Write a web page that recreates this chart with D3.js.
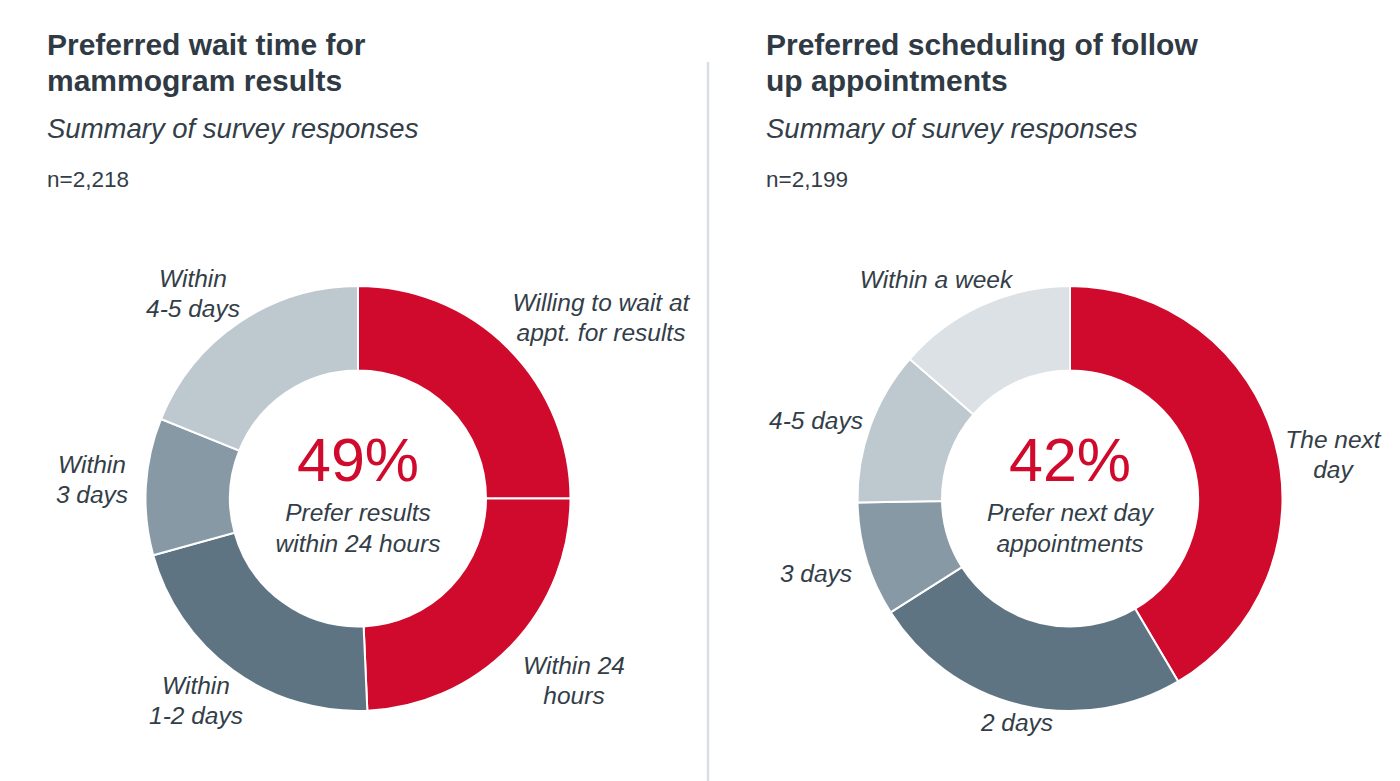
<!DOCTYPE html>
<html>
<head>
<meta charset="utf-8">
<script src="https://cdn.jsdelivr.net/npm/d3@7"></script>
<style>
  body { margin: 0; background: #fff; }
  svg { display: block; font-family: "Liberation Sans", Arial, sans-serif; }
</style>
</head>
<body>
<div id="chart"></div>
<script>
// Left chart: preferred wait time for results (share of respondents, %)
const waitCategories = ["Willing to wait at appt. for results", "Within 24 hours", "Within 1-2 days", "Within 3 days", "Within 4-5 days"];
const waitValues = [25, 24.3, 21.4, 10.4, 18.9];
const waitLabelLines = [["Willing to wait at", "appt. for results"], ["Within 24", "hours"], ["Within", "1-2 days"], ["Within", "3 days"], ["Within", "4-5 days"]];

// Right chart: preferred scheduling of follow up appointments (%)
const followCategories = ["The next day", "2 days", "3 days", "4-5 days", "Within a week"];
const followValues = [41.5, 24.5, 8.7, 11.7, 13.6];
const followLabelLines = [["The next", "day"], ["2 days"], ["3 days"], ["4-5 days"], ["Within a week"]];

const palette = ["#CF0A2C", "#CF0A2C", "#5F7483", "#8899A6", "#BEC8CF"];
const followPalette = ["#CF0A2C", "#5F7483", "#8899A6", "#BEC8CF", "#DCE1E5"];

const width = 1400, height = 781;
const textColor = "#333E48";

const svg = d3.select("#chart").append("svg")
    .attr("width", width)
    .attr("height", height);

svg.append("rect").attr("width", width).attr("height", height).attr("fill", "#fff");

// divider between the two panels
svg.append("line")
    .attr("x1", 708).attr("x2", 708)
    .attr("y1", 62).attr("y2", height)
    .attr("stroke", "#DADDE1")
    .attr("stroke-width", 2.5);

const outerR = 212.5, innerR = 128;

function drawPanel(opts) {
    const g = svg.append("g");

    // header texts
    opts.title.forEach((line, i) => {
        g.append("text")
            .attr("x", opts.left)
            .attr("y", 55 + i * 36)
            .attr("font-size", 30)
            .attr("font-weight", "bold")
            .attr("fill", "#2F3A44")
            .text(line);
    });
    g.append("text")
        .attr("x", opts.left).attr("y", 138)
        .attr("font-size", 27.5)
        .attr("font-style", "italic")
        .attr("fill", textColor)
        .text("Summary of survey responses");
    g.append("text")
        .attr("x", opts.left).attr("y", 187)
        .attr("font-size", 22.5)
        .attr("fill", textColor)
        .text(opts.n);

    // donut
    const pie = d3.pie().sort(null).value(d => d.value);
    const arc = d3.arc().innerRadius(innerR).outerRadius(outerR);
    const data = opts.categories.map((c, i) => ({ name: c, value: opts.values[i] }));

    const donut = g.append("g")
        .attr("transform", "translate(" + opts.cx + "," + opts.cy + ")");

    donut.selectAll("path")
        .data(pie(data))
        .enter().append("path")
        .attr("d", arc)
        .attr("fill", (d, i) => opts.colors[i])
        .attr("stroke", "#fff")
        .attr("stroke-width", 2);

    // centre text
    donut.append("text")
        .attr("text-anchor", "middle")
        .attr("y", -18)
        .attr("font-size", 61)
        .attr("fill", "#CF0A2C")
        .text(opts.big);
    opts.caption.forEach((line, i) => {
        donut.append("text")
            .attr("text-anchor", "middle")
            .attr("y", 22 + i * 31)
            .attr("font-size", 24.5)
            .attr("font-style", "italic")
            .attr("fill", textColor)
            .text(line);
    });

    // slice labels (offsets from donut centre)
    opts.labelLines.forEach((lines, i) => {
        const off = opts.labelOffsets[i];
        lines.forEach((line, j) => {
            donut.append("text")
                .attr("text-anchor", "middle")
                .attr("x", off[0])
                .attr("y", off[1] + j * 30)
                .attr("font-size", 24.5)
                .attr("font-style", "italic")
                .attr("fill", textColor)
                .text(line);
        });
    });
}

drawPanel({
    left: 47, cx: 358, cy: 498.5,
    title: ["Preferred wait time for", "mammogram results"],
    n: "n=2,218",
    categories: waitCategories, values: waitValues, colors: palette,
    labelLines: waitLabelLines,
    labelOffsets: [[243, -188], [216, 175], [-162, 195], [-266, -26], [-165, -212]],
    big: "49%",
    caption: ["Prefer results", "within 24 hours"]
});

drawPanel({
    left: 766, cx: 1070, cy: 498.5,
    title: ["Preferred scheduling of follow", "up appointments"],
    n: "n=2,199",
    categories: followCategories, values: followValues, colors: followPalette,
    labelLines: followLabelLines,
    labelOffsets: [[263, -51], [-53, 232], [-254, 83], [-254, -70], [-134, -211]],
    big: "42%",
    caption: ["Prefer next day", "appointments"]
});
</script>
</body>
</html>
